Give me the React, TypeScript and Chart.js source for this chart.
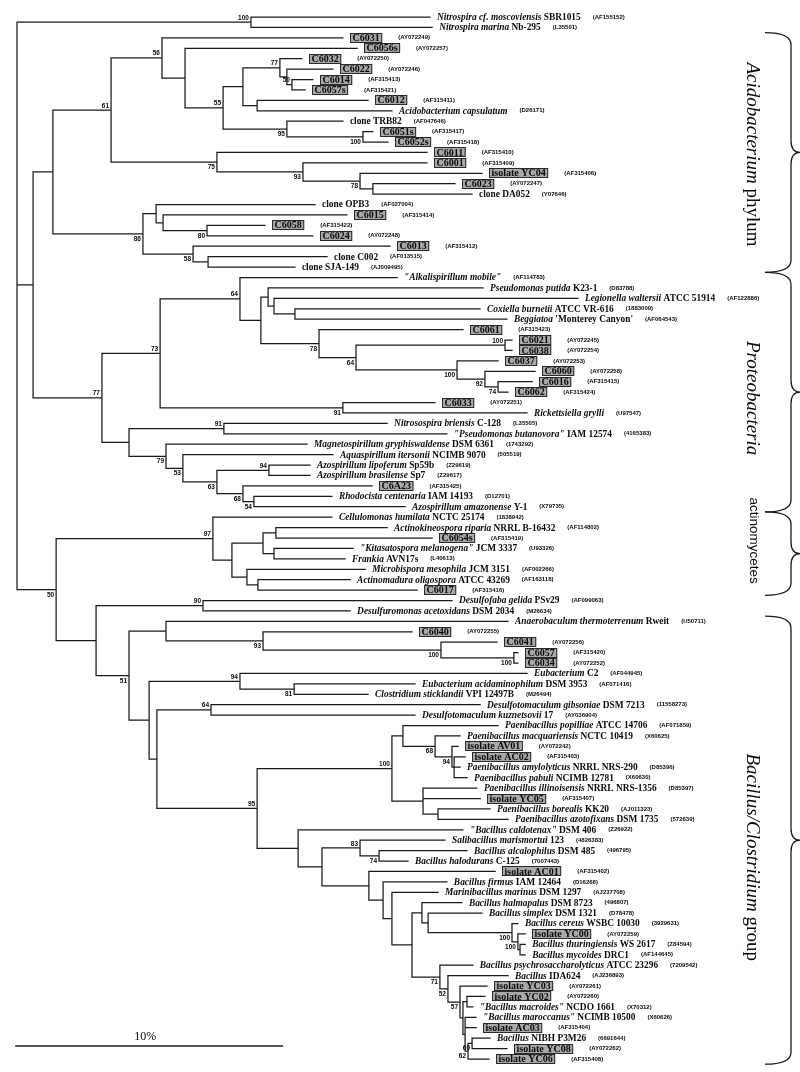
import React, { useEffect, useRef } from 'react';
import { Chart, registerables } from 'chart.js';

Chart.register(...registerables);

// ---------------- DATA ----------------
// Leaf labels: "_italic part_ roman part"; a leading "#" marks a boxed (own) clone/isolate.
const leafLabels: string[] = [
  '_Nitrospira cf. moscoviensis_ SBR1015', '_Nitrospira marina_ Nb-295',
  '#C6031', '#C6056s', '#C6032', '#C6022', '#C6014', '#C6057s', '#C6012',
  '_Acidobacterium capsulatum_', 'clone TRB82', '#C6051s', '#C6052s', '#C6011', '#C6001',
  '#isolate YC04', '#C6023', 'clone DA052', 'clone OPB3', '#C6015', '#C6058', '#C6024', '#C6013',
  'clone C002', 'clone SJA-149',
  '_"Alkalispirillum mobile"_', '_Pseudomonas putida_ K23-1', '_Legionella waltersii_ ATCC 51914',
  '_Coxiella burnetii_ ATCC VR-616', "_Beggiatoa_ 'Monterey Canyon'",
  '#C6061', '#C6021', '#C6038', '#C6037', '#C6060', '#C6016', '#C6062', '#C6033',
  '_Rickettsiella grylli_', '_Nitrosospira briensis_ C-128', '_"Pseudomonas butanovora"_ IAM 12574',
  '_Magnetospirillum gryphiswaldense_ DSM 6361', '_Aquaspirillum itersonii_ NCIMB 9070',
  '_Azospirillum lipoferum_ Sp59b', '_Azospirillum brasilense_ Sp7', '#C6A23',
  '_Rhodocista centenaria_ IAM 14193', '_Azospirillum amazonense_ Y-1',
  '_Cellulomonas humilata_ NCTC 25174', '_Actinokineospora riparia_ NRRL B-16432', '#C6054s',
  '_"Kitasatospora melanogena"_ JCM 3337', '_Frankia_ AVN17s', '_Microbispora mesophila_ JCM 3151',
  '_Actinomadura oligospora_ ATCC 43269', '#C6017',
  '_Desulfofaba gelida_ PSv29', '_Desulfuromonas acetoxidans_ DSM 2034',
  '_Anaerobaculum thermoterrenum_ Rweit', '#C6040', '#C6041', '#C6057', '#C6034',
  '_Eubacterium_ C2', '_Eubacterium acidaminophilum_ DSM 3953', '_Clostridium sticklandii_ VPI 12497B',
  '_Desulfotomaculum gibsoniae_ DSM 7213', '_Desulfotomaculum kuznetsovii_ 17',
  '_Paenibacillus popilliae_ ATCC 14706', '_Paenibacillus macquariensis_ NCTC 10419',
  '#isolate AV01', '#isolate AC02', '_Paenibacillus amylolyticus_ NRRL NRS-290',
  '_Paenibacillus pabuli_ NCIMB 12781', '_Paenibacillus illinoisensis_ NRRL NRS-1356',
  '#isolate YC05', '_Paenibacillus borealis_ KK20', '_Paenibacillus azotofixans_ DSM 1735',
  '_"Bacillus caldotenax"_ DSM 406', '_Salibacillus marismortui_ 123', '_Bacillus alcalophilus_ DSM 485',
  '_Bacillus halodurans_ C-125', '#isolate AC01', '_Bacillus firmus_ IAM 12464',
  '_Marinibacillus marinus_ DSM 1297', '_Bacillus halmapalus_ DSM 8723', '_Bacillus simplex_ DSM 1321',
  '_Bacillus cereus_ WSBC 10030', '#isolate YC00', '_Bacillus thuringiensis_ WS 2617',
  '_Bacillus mycoides_ DRC1', '_Bacillus psychrosaccharolyticus_ ATCC 23296', '_Bacillus_ IDA624',
  '#isolate YC03', '#isolate YC02', '_"Bacillus macroides"_ NCDO 1661',
  '_"Bacillus maroccanus"_ NCIMB 10500', '#isolate AC03', '_Bacillus_ NIBH P3M26',
  '#isolate YC08', '#isolate YC06',
];

const leafAccessions: string[] = [
  'AF155152', 'L35501', 'AY072249', 'AY072257', 'AY072250', 'AY072246', 'AF315413', 'AF315421',
  'AF315411', 'D26171', 'AF047646', 'AF315417', 'AF315418', 'AF315410', 'AF315409', 'AF315406',
  'AY072247', 'Y07646', 'AF027004', 'AF315414', 'AF315422', 'AY072248', 'AF315412', 'AF013515',
  'AJ009495', 'AF114783', 'D83788', 'AF122886', '1883009', 'AF064543', 'AF315423', 'AY072245',
  'AY072254', 'AY072253', 'AY072258', 'AF315415', 'AF315424', 'AY072251', 'U97547', 'L35505',
  '4165383', '1743292', '505519', 'Z29619', 'Z29617', 'AF315425', 'D12701', 'X79735', '1838942',
  'AF114802', 'AF315419', 'U93326', 'L40613', 'AF002266', 'AF163118', 'AF315416', 'AF099063',
  'M26634', 'U50711', 'AY072255', 'AY072256', 'AF315420', 'AY072252', 'AF044945', 'AF071416',
  'M26494', '11558273', 'AY036904', 'AF071859', 'X60625', 'AY072242', 'AF315403', 'D85396',
  'X60630', 'D85397', 'AF315407', 'AJ011323', '572639', 'Z26922', '4826383', '496795', '7007443',
  'AF315402', 'D16268', 'AJ237708', '496807', 'D78478', '3929631', 'AY072259', 'Z84594',
  'AF144645', '7209542', 'AJ236893', 'AY072261', 'AY072260', 'X70312', 'X60626', 'AF315404',
  '6691644', 'AY072262', 'AF315408',
];

// parent node of each leaf
const leafParents: string[] = [
  'N1', 'N1', 'A3', 'A4', 'A7', 'A8', 'A9', 'A9', 'A10', 'A10', 'A11', 'A12', 'A12', 'A13', 'A14',
  'A15', 'A16', 'A16', 'A18', 'A19', 'A20', 'A20', 'A21', 'A22', 'A22',
  'P2', 'P4', 'P5', 'P6', 'P6', 'P7', 'P9', 'P9', 'P10', 'P11', 'P12', 'P12', 'P13', 'P13', 'P15',
  'P15', 'P16', 'P17', 'P19', 'P19', 'P20', 'P21', 'P21',
  'C1', 'C4', 'C4', 'C5', 'C5', 'C6', 'C7', 'C7',
  'D1', 'D1', 'D3', 'D4', 'D5', 'D6', 'D6', 'D8', 'D9', 'D9', 'D11', 'D11',
  'E2', 'E3', 'E4', 'E5', 'E5', 'E5', 'E6', 'E6', 'E7', 'E7',
  'F1', 'F3', 'F4', 'F4', 'F5', 'F6', 'F7', 'F9', 'F10', 'F11', 'F12', 'F13', 'F13',
  'G1', 'G2', 'G3', 'G5', 'G5', 'G6', 'G6', 'G8', 'G8', 'G7',
];

// distance of each leaf tip from the root (% sequence divergence)
const leafTips: number[] = [
  15.41, 15.49, 12.16, 12.69, 10.63, 11.79, 11.04, 10.75, 13.10, 13.99,
  12.16, 13.28, 13.84, 15.30, 15.30, 17.35, 16.34, 16.98, 11.12, 12.31,
  9.25, 11.04, 13.92, 11.57, 10.37, 14.18, 17.39, 20.93, 17.28, 18.28,
  16.64, 18.47, 18.47, 17.95, 19.33, 19.22, 18.32, 15.60, 19.03, 13.81,
  16.04, 10.82, 11.79, 10.93, 10.93, 13.25, 11.75, 14.48, 11.75, 13.81,
  15.49, 12.54, 12.24, 12.99, 12.43, 14.93, 16.23, 12.43, 18.32, 14.74,
  17.91, 18.69, 18.69, 19.03, 14.85, 13.10, 17.28, 14.85, 17.95, 16.53,
  16.46, 16.72, 16.53, 16.79, 17.16, 17.28, 17.65, 18.32, 16.64, 15.97,
  16.79, 14.59, 17.84, 16.04, 15.71, 16.60, 17.35, 18.69, 18.96, 18.96,
  18.96, 17.01, 18.32, 17.54, 17.46, 17.01, 17.13, 17.13, 17.65, 18.28,
  17.61,
];

// internal nodes
const nodeIds: string[] = [
  'root', 'N1', 'A0', 'A1', 'A2', 'A3', 'A4', 'A5', 'A6', 'A7', 'A8', 'A9', 'A10', 'A11', 'A12',
  'A13', 'A14', 'A15', 'A16', 'A17', 'A18', 'A19', 'A20', 'A21', 'A22',
  'P0', 'P1', 'P2', 'P3', 'P4', 'P5', 'P6', 'P7', 'P8', 'P9', 'P10', 'P11', 'P12', 'P13', 'P14',
  'P15', 'P16', 'P17', 'P18', 'P19', 'P20', 'P21',
  'B0', 'C1', 'C2', 'C3', 'C4', 'C5', 'C6', 'C7',
  'D0', 'D1', 'D2', 'D3', 'D4', 'D5', 'D6', 'D7', 'D8', 'D9', 'D10', 'D11', 'D12',
  'E1', 'E2', 'E3', 'E4', 'E5', 'E6', 'E7',
  'F1', 'F2', 'F3', 'F4', 'F5', 'F6', 'F7', 'F8', 'F9', 'F10', 'F11', 'F12', 'F13',
  'G1', 'G2', 'G3', 'G4', 'G5', 'G6', 'G7', 'G8',
];
const nodeParents: (string | null)[] = [
  null, 'root', 'root', 'A0', 'A1', 'A2', 'A3', 'A4', 'A5', 'A6', 'A7', 'A8', 'A6', 'A5', 'A11',
  'A2', 'A13', 'A14', 'A15', 'A1', 'A17', 'A18', 'A19', 'A17', 'A21',
  'A0', 'P0', 'P1', 'P2', 'P3', 'P4', 'P5', 'P3', 'P7', 'P8', 'P8', 'P10', 'P11', 'P1', 'P0',
  'P14', 'P14', 'P16', 'P17', 'P18', 'P18', 'P20',
  'root', 'B0', 'C1', 'C2', 'C3', 'C3', 'C2', 'C6',
  'B0', 'D0', 'D0', 'D2', 'D3', 'D4', 'D5', 'D2', 'D7', 'D8', 'D7', 'D10', 'D10',
  'D12', 'E1', 'E2', 'E3', 'E4', 'E1', 'E6',
  'D12', 'F1', 'F2', 'F3', 'F2', 'F5', 'F6', 'F7', 'F8', 'F9', 'F10', 'F11', 'F12',
  'F8', 'G1', 'G2', 'G3', 'G4', 'G4', 'G6', 'G7',
];
const nodeDepths: number[] = [
  0, 8.73, 0.60, 1.34, 3.51, 5.41, 6.27, 7.69, 8.43, 9.81, 10.07, 10.26, 8.96, 10.07, 12.91,
  7.46, 10.67, 12.80, 13.28, 4.70, 5.19, 5.45, 7.09, 6.57, 7.13,
  3.17, 5.34, 8.32, 9.10, 9.37, 9.59, 10.37, 11.27, 12.65, 18.21, 16.42, 17.46, 17.95, 12.16, 4.18,
  7.72, 5.56, 6.19, 7.46, 9.40, 8.43, 8.84,
  1.46, 7.31, 8.02, 9.18, 9.66, 9.59, 8.58, 8.99,
  2.95, 6.94, 4.18, 5.56, 9.18, 15.82, 18.54, 4.93, 8.32, 10.34, 5.22, 7.24, 8.96,
  13.99, 14.40, 15.60, 16.23, 16.31, 15.15, 15.71,
  10.49, 11.38, 12.80, 13.51, 13.13, 13.66, 13.99, 14.74, 15.11, 15.34, 18.47, 18.69, 18.77,
  15.78, 16.08, 16.53, 16.64, 16.79, 16.72, 16.83, 16.98,
];

// bootstrap support values
const bootstrapNodes: string[] = [
  'N1', 'A2', 'A3', 'A5', 'A7', 'A9', 'A11', 'A12', 'A13', 'A14', 'A15', 'A17', 'A20', 'A21',
  'P0', 'P1', 'P2', 'P7', 'P8', 'P9', 'P10', 'P11', 'P12', 'P13', 'P15', 'P16', 'P17', 'P18',
  'P19', 'P20', 'P21', 'B0', 'C1', 'D1', 'D2', 'D4', 'D5', 'D6', 'D8', 'D9', 'D11', 'D12',
  'E1', 'E3', 'E4', 'F3', 'F4', 'F11', 'F12', 'G1', 'G2', 'G3', 'G7', 'G8',
];
const bootstrapValues: number[] = [
  100, 61, 56, 55, 77, 50, 95, 100, 75, 93, 78, 86, 80, 58,
  77, 73, 64, 78, 64, 100, 100, 92, 74, 91, 91, 79, 53, 63,
  94, 68, 54, 50, 97, 90, 51, 93, 100, 100, 94, 81, 64, 95,
  100, 68, 94, 83, 74, 100, 100, 71, 52, 57, 62, 60,
];
// label placement: 1 = under the branch, 0 = above it
const bootstrapBelow: number[] = [
  0, 0, 0, 0, 0, 0, 1, 1, 1, 1, 1, 1, 1, 1,
  0, 0, 0, 1, 1, 0, 1, 1, 1, 1, 0, 1, 1, 1,
  0, 1, 1, 1, 0, 0, 1, 1, 1, 1, 0, 1, 0, 0,
  0, 1, 1, 0, 1, 1, 1, 1, 1, 1, 1, 1,
];

// groups (leaf index ranges)
const groupLabels: string[] = ['_Acidobacterium_ phylum', '_Proteobacteria_', 'actinomycetes', '_Bacillus/Clostridium_ group'];
const groupFirstLeaf: number[] = [2, 25, 48, 58];
const groupLastLeaf: number[] = [24, 47, 55, 100];

const scaleBarValue = 10; // percent
const scaleBarLabel = '10%';

// ---------------- LAYOUT / STYLE ----------------
const W = 800;
const H = 1072;
const ORIGIN_X = 17;
const PX_PER_UNIT = 26.8;
const ORIGIN_Y = 17;
const PX_PER_ROW = 10.42;
const SERIF = "'Liberation Serif', 'Times New Roman', serif";
const SANS = "'Liberation Sans', Arial, sans-serif";
const LINE_COLOR = '#1a1a1a';
const TEXT_COLOR = '#0a0a0a';
// vertical shift (px) of each group title relative to its bracket centre
const groupTextShift = [2, 6, -13, 17];

type TNode = { id: string; depth: number; y: number; parent: TNode | null; children: TNode[] };

function buildTree() {
  const map = new Map<string, TNode>();
  nodeIds.forEach((id, i) => map.set(id, { id, depth: nodeDepths[i], y: NaN, parent: null, children: [] }));
  nodeIds.forEach((id, i) => {
    const p = nodeParents[i];
    if (p) {
      const n = map.get(id)!;
      const pn = map.get(p)!;
      n.parent = pn;
      pn.children.push(n);
    }
  });
  const leaves: TNode[] = leafLabels.map((_, i) => {
    const parent = map.get(leafParents[i])!;
    const n: TNode = { id: 'leaf' + i, depth: leafTips[i], y: i, parent, children: [] };
    parent.children.push(n);
    return n;
  });
  const place = (n: TNode): number => {
    if (!n.children.length) return n.y;
    let lo = Infinity;
    let hi = -Infinity;
    n.children.forEach((c) => {
      const cy = place(c);
      lo = Math.min(lo, cy);
      hi = Math.max(hi, cy);
    });
    n.y = (lo + hi) / 2;
    return n.y;
  };
  place(map.get('root')!);
  return { map, internals: Array.from(map.values()), leaves };
}

function branchPoints(all: TNode[]) {
  const pts: { x: number; y: number }[] = [];
  all.forEach((n) => {
    if (n.parent) {
      pts.push({ x: n.parent.depth, y: n.y }, { x: n.depth, y: n.y }, { x: NaN, y: NaN });
    }
    if (n.children.length) {
      const ys = n.children.map((c) => c.y);
      pts.push({ x: n.depth, y: Math.min(...ys) }, { x: n.depth, y: Math.max(...ys) }, { x: NaN, y: NaN });
    }
  });
  return pts;
}

function splitRich(text: string): [string, boolean][] {
  const m = /^_(.*?)_(.*)$/.exec(text);
  if (m) return [[m[1], true], [m[2], false]].filter((p) => p[0]) as [string, boolean][];
  return [[text, false]];
}

function drawRich(ctx: CanvasRenderingContext2D, text: string, x: number, y: number, size: number, weight: string, family: string) {
  let cx = x;
  splitRich(text).forEach(([t, it]) => {
    ctx.font = `${it ? 'italic ' : ''}${weight} ${size}px ${family}`;
    ctx.fillText(t, cx, y);
    cx += ctx.measureText(t).width;
  });
  return cx;
}

function measureRich(ctx: CanvasRenderingContext2D, text: string, size: number, weight: string, family: string) {
  let w = 0;
  splitRich(text).forEach(([t, it]) => {
    ctx.font = `${it ? 'italic ' : ''}${weight} ${size}px ${family}`;
    w += ctx.measureText(t).width;
  });
  return w;
}

function drawBrace(ctx: CanvasRenderingContext2D, top: number, bottom: number) {
  const x0 = 765;
  const x1 = 791;
  const xt = 800;
  const mid = (top + bottom) / 2;
  const r = 12;
  ctx.beginPath();
  ctx.moveTo(x0, top);
  ctx.quadraticCurveTo(x1, top, x1, top + r);
  ctx.lineTo(x1, mid - r);
  ctx.quadraticCurveTo(x1, mid, xt, mid);
  ctx.moveTo(xt, mid);
  ctx.quadraticCurveTo(x1, mid, x1, mid + r);
  ctx.lineTo(x1, bottom - r);
  ctx.quadraticCurveTo(x1, bottom, x0, bottom);
  ctx.stroke();
}

export default function App() {
  const ref = useRef<HTMLCanvasElement>(null);

  useEffect(() => {
    const canvas = ref.current;
    if (!canvas) return;
    const tree = buildTree();
    const all = [...tree.internals, ...tree.leaves];
    const pts = branchPoints(all);

    const labelPlugin = {
      id: 'phyloLabels',
      afterDatasetsDraw(chart: any) {
        const ctx: CanvasRenderingContext2D = chart.ctx;
        const xs = chart.scales.x;
        const ys = chart.scales.y;
        ctx.save();
        ctx.fillStyle = TEXT_COLOR;
        ctx.textBaseline = 'middle';
        ctx.textAlign = 'left';

        // leaf labels
        tree.leaves.forEach((leaf, i) => {
          const x = xs.getPixelForValue(leaf.depth) + 7;
          const y = ys.getPixelForValue(leaf.y);
          const label = leafLabels[i];
          let end: number;
          const boxed = label.startsWith('#');
          if (boxed) {
            const t = label.slice(1);
            ctx.font = `bold 10px ${SERIF}`;
            const tw = ctx.measureText(t).width;
            const bw = tw + 5;
            const bh = 10;
            const bx = Math.round(x);
            const by = Math.round(y - bh / 2);
            ctx.fillStyle = '#a9a9a9';
            ctx.fillRect(bx, by, bw, bh);
            ctx.strokeStyle = '#2a2a2a';
            ctx.lineWidth = 1;
            ctx.strokeRect(bx + 0.5, by + 0.5, bw - 1, bh - 1);
            ctx.fillStyle = TEXT_COLOR;
            ctx.fillText(t, bx + 2.5, y + 0.5);
            end = bx + bw;
          } else {
            end = drawRich(ctx, label, x, y + 0.5, 9.4, 'bold', SERIF);
          }
          ctx.font = `bold 6px ${SANS}`;
          ctx.fillText(`(${leafAccessions[i]})`, end + (boxed ? 16 : 12), y);
        });

        // bootstrap values
        ctx.textAlign = 'right';
        ctx.font = `bold 6.5px ${SANS}`;
        bootstrapNodes.forEach((id, k) => {
          const n = tree.map.get(id)!;
          const x = xs.getPixelForValue(n.depth) - 2;
          const y = ys.getPixelForValue(n.y);
          if (bootstrapBelow[k]) {
            ctx.textBaseline = 'top';
            ctx.fillText(String(bootstrapValues[k]), x, y + 2);
          } else {
            ctx.textBaseline = 'bottom';
            ctx.fillText(String(bootstrapValues[k]), x, y - 1);
          }
        });

        // groups
        ctx.strokeStyle = LINE_COLOR;
        ctx.lineWidth = 1.3;
        ctx.textAlign = 'left';
        ctx.textBaseline = 'middle';
        groupLabels.forEach((g, k) => {
          const top = ys.getPixelForValue(groupFirstLeaf[k] - 0.5);
          const bottom = ys.getPixelForValue(groupLastLeaf[k] + 0.5);
          drawBrace(ctx, top, bottom);
          const sans = k === 2;
          const size = sans ? 13.5 : 19;
          const family = sans ? SANS : SERIF;
          const w = measureRich(ctx, g, size, 'normal', family);
          ctx.save();
          ctx.translate(sans ? 754 : 752, (top + bottom) / 2 + groupTextShift[k]);
          ctx.rotate(Math.PI / 2);
          drawRich(ctx, g, -w / 2, 0, size, 'normal', family);
          ctx.restore();
        });

        // scale bar
        const bx0 = xs.getPixelForValue(-0.07);
        const bx1 = xs.getPixelForValue(-0.07 + scaleBarValue);
        const by = ys.getPixelForValue(98.75);
        ctx.beginPath();
        ctx.moveTo(bx0, by);
        ctx.lineTo(bx1, by);
        ctx.stroke();
        ctx.textAlign = 'center';
        ctx.textBaseline = 'bottom';
        ctx.font = `normal 12px ${SERIF}`;
        ctx.fillText(scaleBarLabel, (bx0 + bx1) / 2 - 4, by - 3);
        ctx.restore();
      },
    };

    const chart = new Chart(canvas, {
      type: 'line',
      data: {
        datasets: [
          {
            data: pts as any,
            borderColor: LINE_COLOR,
            borderWidth: 1.25,
            pointRadius: 0,
            pointHoverRadius: 0,
            spanGaps: false,
            fill: false,
            tension: 0,
            borderCapStyle: 'square',
            borderJoinStyle: 'miter',
          } as any,
        ],
      },
      options: {
        animation: false,
        responsive: false,
        maintainAspectRatio: false,
        devicePixelRatio: 1,
        events: [],
        layout: { padding: 0 },
        plugins: { legend: { display: false }, tooltip: { enabled: false }, title: { display: false } },
        scales: {
          x: { type: 'linear', display: false, min: -ORIGIN_X / PX_PER_UNIT, max: (W - ORIGIN_X) / PX_PER_UNIT },
          y: { type: 'linear', display: false, reverse: true, min: -ORIGIN_Y / PX_PER_ROW, max: (H - ORIGIN_Y) / PX_PER_ROW },
        },
      },
      plugins: [labelPlugin],
    });
    return () => chart.destroy();
  }, []);

  return (
    <div style={{ position: 'absolute', left: 0, top: 0, width: W, height: H, background: '#fff' }}>
      <canvas ref={ref} width={W} height={H} style={{ display: 'block', width: W, height: H }} />
    </div>
  );
}
